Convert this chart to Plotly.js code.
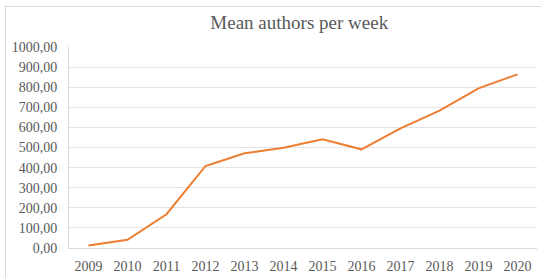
<!DOCTYPE html>
<html>
<head>
<meta charset="utf-8">
<script src="https://cdn.plot.ly/plotly-3.0.1.min.js"></script>
<style>
html,body{margin:0;padding:0;background:#fff;overflow:hidden;}
#frame{position:absolute;left:5px;top:6px;width:560px;height:300px;border-left:1px solid #d9d9d9;border-top:1px solid #d9d9d9;}
#chart{position:absolute;left:0;top:0;width:541px;height:278px;}
</style>
</head>
<body>
<div id="frame"></div>
<div id="chart"></div>
<script>
const years = ['2009','2010','2011','2012','2013','2014','2015','2016','2017','2018','2019','2020'];
const meanAuthors = [12, 41, 168, 408, 471, 499, 541, 491, 595, 683, 794, 864];
const yTicks = [0,100,200,300,400,500,600,700,800,900,1000];

const FAM = 'Liberation Serif';
const trace = {
  x: years, y: meanAuthors, type: 'scatter', mode: 'lines',
  line: {color: '#ED7D31', width: 2}, hoverinfo: 'skip'
};
const layout = {
  width: 541, height: 278,
  margin: {l: 69, r: 4, t: 47, b: 30},
  paper_bgcolor: 'rgba(0,0,0,0)', plot_bgcolor: 'rgba(0,0,0,0)',
  separators: ',.',
  showlegend: false,
  font: {family: FAM, size: 14, color: '#595959'},
  title: {text: 'Mean authors per week', font: {family: FAM, size: 19, color: '#595959'},
          x: 0.492, xref: 'paper', xanchor: 'center', y: 0.92, yref: 'container', yanchor: 'middle'},
  xaxis: {type: 'category', range: [-0.5, years.length - 0.5], showgrid: false, zeroline: false, showline: true,
          linecolor: '#d9d9d9', linewidth: 1, ticks: '', ticklabelstandoff: 5,
          tickfont: {family: FAM, size: 14, color: '#595959'}, fixedrange: true},
  yaxis: {range: [0, 1000], tickvals: yTicks, tickformat: '.2f', showgrid: true, gridcolor: '#e4e4e4', gridwidth: 1,
          zeroline: false, showline: true, linecolor: '#d9d9d9', linewidth: 1, ticks: '', ticklabelstandoff: 8,
          tickfont: {family: FAM, size: 14, color: '#595959'}, fixedrange: true}
};
Plotly.newPlot('chart', [trace], layout, {staticPlot: true, displayModeBar: false});
</script>
</body>
</html>
